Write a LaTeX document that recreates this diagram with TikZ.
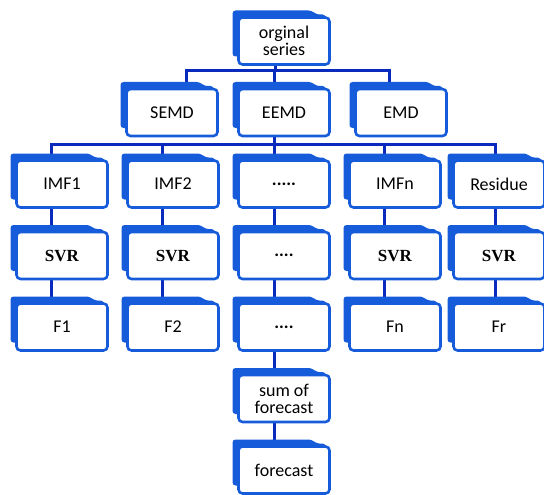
\documentclass[tikz,border=0pt]{standalone}
\usepackage{fontspec}
\setmainfont{Carlito}
\newfontfamily\svrfont{Liberation Serif}
\usetikzlibrary{positioning, calc, backgrounds}
\definecolor{boxblue}{RGB}{22,92,218}
\definecolor{lineblue}{RGB}{10,42,190}

\begin{document}
\begin{tikzpicture}[
  x=1pt, y=-1pt,
  box/.style={rectangle, draw=boxblue, fill=white, line width=2.6pt, rounded corners=4pt,
    minimum width=91pt, minimum height=47pt, inner sep=1pt, outer sep=0pt, align=center,
    font=\fontsize{18}{17}\selectfont},
  svrbox/.style={box, font=\svrfont\bfseries\fontsize{17}{17}\selectfont},
  back/.style={fill=boxblue, rounded corners=3pt},
  link/.style={draw=lineblue, line width=3pt},
  node distance=24.5pt
  ]
  \useasboundingbox (0,0) rectangle (544,495);
  % top and methods
  \node[box] (orig) at (284,41) {orginal\\series};
  \node[box, below=of orig] (eemd) {EEMD};
  \node[box, left=21pt of eemd] (semd) {SEMD};
  \node[box, right=26pt of eemd] (emd) {EMD};
  % components
  \node[box, below=of eemd] (imfd) {\textbf{.....}};
  \node[box, left=20pt of imfd] (imf2) {IMF2};
  \node[box, left=20pt of imf2] (imf1) {IMF1};
  \node[box, right=20pt of imfd] (imfn) {IMFn};
  \node[box, right=13pt of imfn] (res) {Residue};
  % models
  \node[svrbox, below=of imf1] (svr1) {SVR};
  \node[svrbox, below=of imf2] (svr2) {SVR};
  \node[box, below=of imfd] (svrd) {\textbf{....}};
  \node[svrbox, below=of imfn] (svrn) {SVR};
  \node[svrbox, below=of res] (svrr) {SVR};
  % forecasts
  \node[box, below=of svr1] (f1) {F1};
  \node[box, below=of svr2] (f2) {F2};
  \node[box, below=of svrd] (fd) {\textbf{....}};
  \node[box, below=of svrn] (fn) {Fn};
  \node[box, below=of svrr] (fr) {Fr};
  \node[box, below=of fd] (sum) {sum of\\forecast};
  \node[box, below=of sum] (fcst) {forecast};

  \begin{scope}[on background layer]
    % connectors
    \coordinate (bus1) at ($(orig.south)+(-9,6)$);
    \coordinate (bus2) at ($(eemd.south)+(-10,8)$);
    \draw[link] ([xshift=-9pt]orig.south) -- (bus1);
    \draw[link] (bus1) -| ([xshift=14pt]semd.north);
    \draw[link] (bus1) -| ([xshift=-10pt]eemd.north);
    \draw[link] (bus1) -| ([xshift=-12pt]emd.north);
    \draw[link] ([xshift=-10pt]eemd.south) -- (bus2);
    \foreach \n/\dx in {imf1/-10.5, imf2/-11, imfd/-10, imfn/-11, res/-4}
      \draw[link] (bus2) -| ([xshift=\dx pt]\n.north);
    \foreach \a/\b/\dx in {imf1/svr1/-10.5, svr1/f1/-10.5, imf2/svr2/-11, svr2/f2/-11,
        imfd/svrd/-10, svrd/fd/-10, imfn/svrn/-11, svrn/fn/-11, res/svrr/-4, svrr/fr/-4,
        fd/sum/-10, sum/fcst/-10}
      \draw[link] ([xshift=\dx pt]\a.south) -- ([xshift=\dx pt]\b.north);
    % folder backs
    \foreach \n in {orig,semd,eemd,emd,imf1,imf2,imfd,imfn,res,svr1,svr2,svrd,svrn,svrr,
        f1,f2,fd,fn,fr,sum,fcst}
      \fill[back] ($(\n.south west)+(-6,-8)$) -- ($(\n.north west)+(-6,-7)$)
        -- ($(\n.north east)+(-18,-7)$) -- ($(\n.north east)+(-13,-3)$)
        -- ($(\n.north east)+(-4,-3)$) -- ($(\n.south east)+(-4,-8)$) -- cycle;
  \end{scope}
\end{tikzpicture}
\end{document}
